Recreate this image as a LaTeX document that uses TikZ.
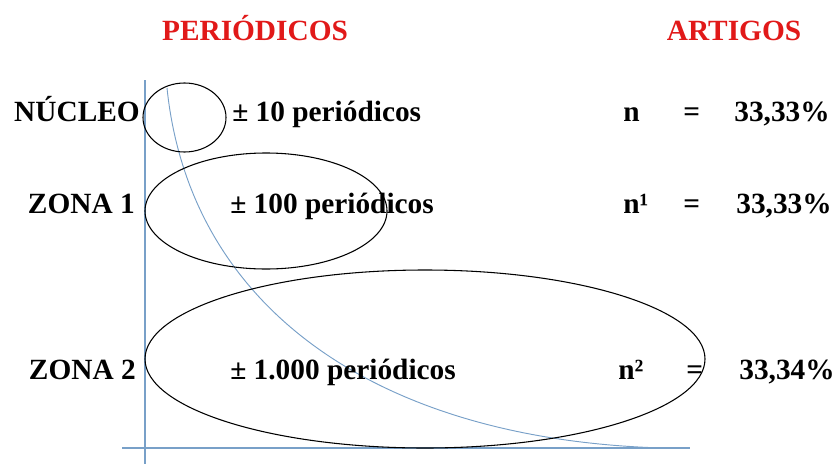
\documentclass[tikz,border=0pt]{standalone}
\usepackage{fontspec}
\setmainfont{Liberation Serif}
\usetikzlibrary{positioning, shapes}

\definecolor{axisblue}{RGB}{120,160,200}
\definecolor{titlered}{RGB}{225,25,25}

\tikzset{
    lbl/.style={font=\fontsize{22}{26}\selectfont\bfseries, inner sep=0pt},
    ttl/.style={lbl, text=titlered},
    zone/.style={shape=ellipse, draw=black, line width=0.8pt, inner sep=0pt},
    axis/.style={draw=axisblue, line width=1pt}
}

\begin{document}
\begin{tikzpicture}[x=0.75pt, y=-0.75pt]
        \useasboundingbox (0,0) rectangle (837,464);

        % axes and curve
        \coordinate (ytop) at (145,80);
        \coordinate (ybot) at (145,464);
        \coordinate (xleft) at (122,448);
        \coordinate (xright) at (690,448);
        \coordinate (cstart) at (167,88);
        \coordinate (cend) at (663,448);
        \path[axis] (ytop) -- (ybot);
        \path[axis] (xleft) -- (xright);
        \draw[axisblue, line width=0.7pt] (cstart) .. controls (190,310) and (380,440) .. (cend);

        % zones
        \node[zone, minimum width=62.25pt, minimum height=51.75pt] (nucleo) at (184.5,117.5) {};
        \node[zone, minimum width=181.5pt, minimum height=87pt] (zona1) at (266,211) {};
        \node[zone, minimum width=420pt, minimum height=133.5pt] (zona2) at (425,359) {};

        % titles
        \node[ttl, anchor=base] (periodicos) at (255,40) {PERIÓDICOS};
        \node[ttl, anchor=base] (artigos) at (734,40) {ARTIGOS};

        % row labels
        \node[lbl, anchor=base east] (lnucleo) at (140,121) {NÚCLEO};
        \node[lbl, anchor=base east] (lzona1) at (135,213) {ZONA 1};
        \node[lbl, anchor=base east] (lzona2) at (136,379) {ZONA 2};

        \node[lbl, anchor=base west] (p10) at (232,121) {± 10 periódicos};
        \node[lbl, anchor=base west] (p100) at (230,213) {± 100 periódicos};
        \node[lbl, anchor=base west] (p1000) at (230,379) {± 1.000 periódicos};

        % articles
        \node[lbl, anchor=base west] (n0) at (623,121) {n};
        \node[lbl, anchor=base west] (eq0) at (683,121) {=};
        \node[lbl, anchor=base east] (pc0) at (830,121) {33,33\%};

        \node[lbl, anchor=base west] (n1) at (623,213) {n¹};
        \node[lbl, anchor=base west] (eq1) at (683,213) {=};
        \node[lbl, anchor=base east] (pc1) at (832,213) {33,33\%};

        \node[lbl, anchor=base west] (n2) at (618,379) {n²};
        \node[lbl, anchor=base west] (eq2) at (686,379) {=};
        \node[lbl, anchor=base east] (pc2) at (835,379) {33,34\%};

    \end{tikzpicture}
\end{document}
